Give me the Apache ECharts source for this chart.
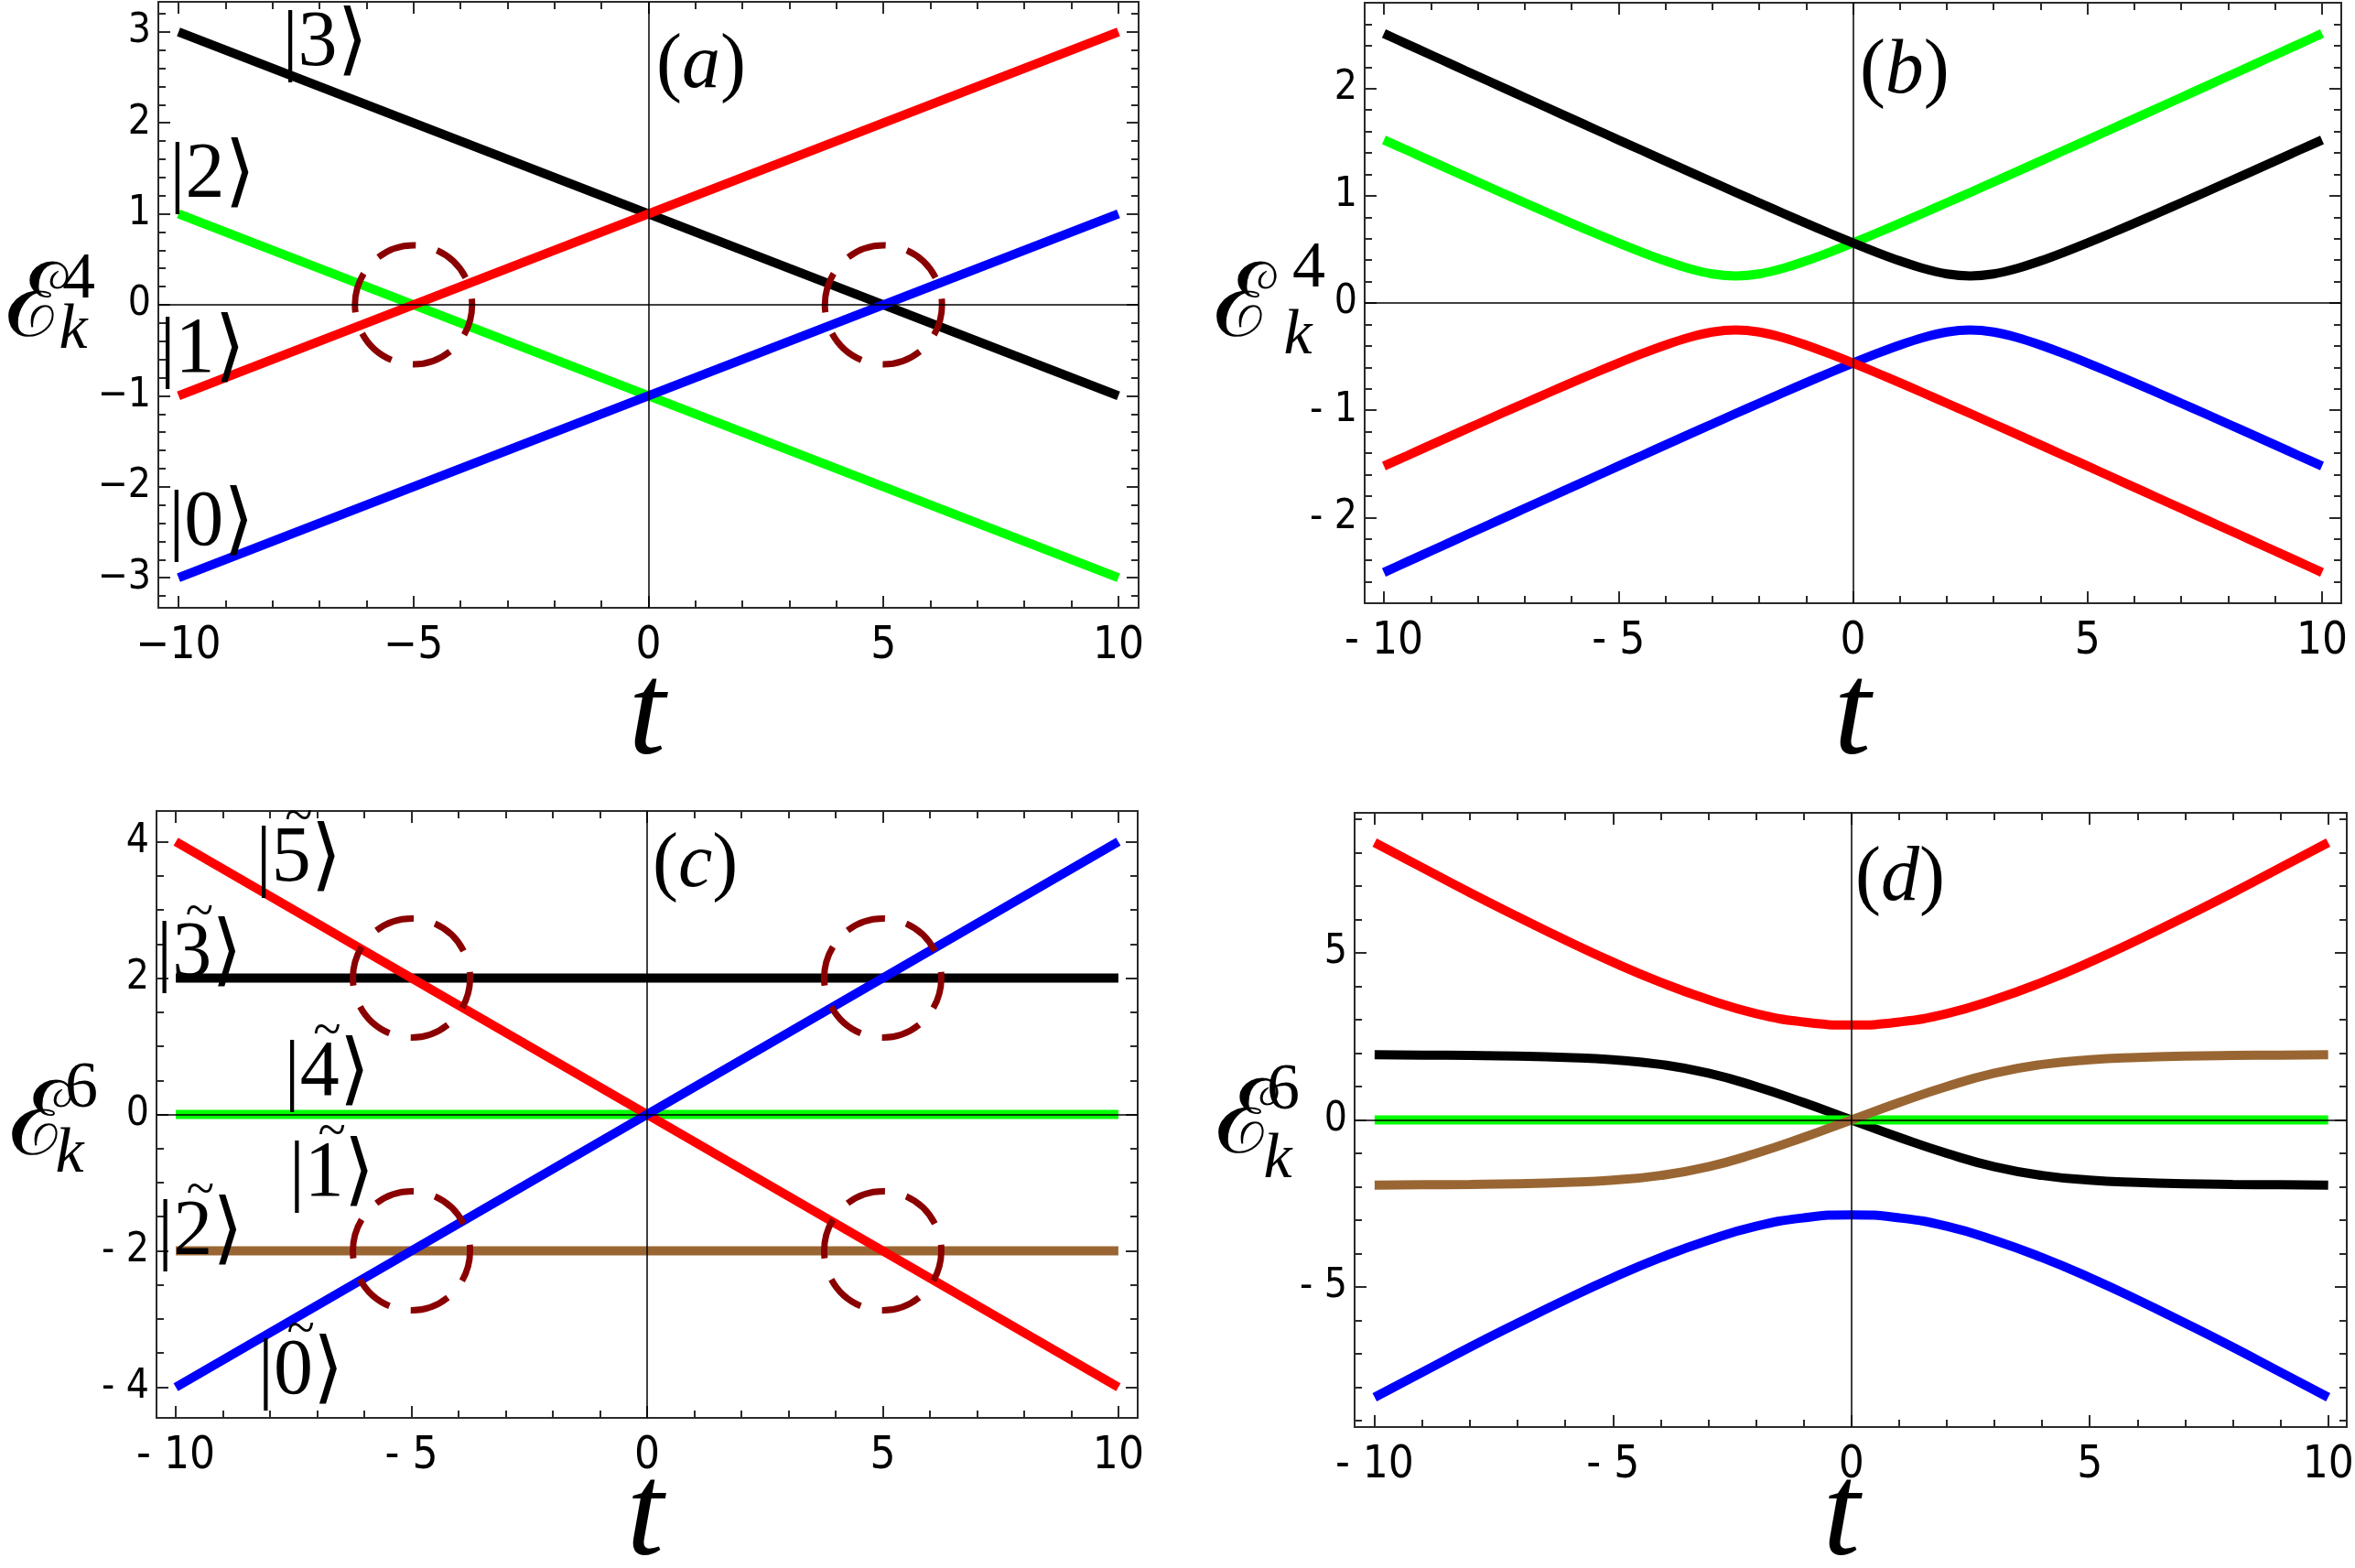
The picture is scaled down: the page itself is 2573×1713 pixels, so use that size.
<!DOCTYPE html>
<html>
<head>
<meta charset="utf-8">
<title>Level crossings</title>
<script src="https://cdn.jsdelivr.net/npm/echarts@6/dist/echarts.min.js"></script>
<style>
  html, body { margin: 0; padding: 0; background: #fff; }
  #chart-container { width: 2573px; height: 1713px; }
</style>
</head>
<body>
<div id="chart-container"></div>
<script>
// ---------- data ----------
const tEnds = [-10, 10];

// (a) straight levels |3>,|2>,|1>,|0>
const aKet3 = [3, -1];
const aKet2 = [1, -3];
const aKet1 = [-1, 3];
const aKet0 = [-3, 1];
const aCrossings = [[-5, 0], [5, 0]];

// (b) avoided crossings
const tB = [-10, -9.5, -9, -8.5, -8, -7.5, -7, -6.5, -6, -5.5, -5, -4.5, -4, -3.5, -3, -2.5, -2, -1.5, -1, -0.5,
  0, 0.5, 1, 1.5, 2, 2.5, 3, 3.5, 4, 4.5, 5, 5.5, 6, 6.5, 7, 7.5, 8, 8.5, 9, 9.5, 10];
const bBlack = [2.513, 2.413, 2.314, 2.214, 2.115, 2.016, 1.917, 1.818, 1.719, 1.620, 1.521, 1.423, 1.324, 1.226, 1.129, 1.031, 0.935, 0.839, 0.744, 0.651,
  0.560, 0.473, 0.392, 0.322, 0.271, 0.252, 0.271, 0.322, 0.392, 0.473, 0.560, 0.651, 0.744, 0.839, 0.935, 1.031, 1.129, 1.226, 1.324, 1.423, 1.521];
const bGreen = [1.521, 1.423, 1.324, 1.226, 1.129, 1.031, 0.935, 0.839, 0.744, 0.651, 0.560, 0.473, 0.392, 0.322, 0.271, 0.252, 0.271, 0.322, 0.392, 0.473,
  0.560, 0.651, 0.744, 0.839, 0.935, 1.031, 1.129, 1.226, 1.324, 1.423, 1.521, 1.620, 1.719, 1.818, 1.917, 2.016, 2.115, 2.214, 2.314, 2.413, 2.513];
const bRed = [-1.521, -1.423, -1.324, -1.226, -1.129, -1.031, -0.935, -0.839, -0.744, -0.651, -0.560, -0.473, -0.392, -0.322, -0.271, -0.252, -0.271, -0.322, -0.392, -0.473,
  -0.560, -0.651, -0.744, -0.839, -0.935, -1.031, -1.129, -1.226, -1.324, -1.423, -1.521, -1.620, -1.719, -1.818, -1.917, -2.016, -2.115, -2.214, -2.314, -2.413, -2.513];
const bBlue = [-2.513, -2.413, -2.314, -2.214, -2.115, -2.016, -1.917, -1.818, -1.719, -1.620, -1.521, -1.423, -1.324, -1.226, -1.129, -1.031, -0.935, -0.839, -0.744, -0.651,
  -0.560, -0.473, -0.392, -0.322, -0.271, -0.252, -0.271, -0.322, -0.392, -0.473, -0.560, -0.651, -0.744, -0.839, -0.935, -1.031, -1.129, -1.226, -1.324, -1.423, -1.521];

// (c) six straight levels
const cKet5 = [4, -4];
const cKet0 = [-4, 4];
const cKet3 = [2, 2];
const cKet4 = [0, 0];
const cKet2 = [-2, -2];
const cCrossings = [[-5, 2], [5, 2], [-5, -2], [5, -2]];

// (d) six coupled levels
const tD = [-10, -9, -8, -7, -6, -5, -4, -3, -2, -1, 0, 1, 2, 3, 4, 5, 6, 7, 8, 9, 10];
const dRed = [8.30, 7.55, 6.80, 6.08, 5.38, 4.72, 4.12, 3.60, 3.18, 2.93, 2.84, 2.93, 3.18, 3.60, 4.12, 4.72, 5.38, 6.08, 6.80, 7.55, 8.30];
const dBlue = [-8.30, -7.55, -6.80, -6.08, -5.38, -4.72, -4.12, -3.60, -3.18, -2.93, -2.84, -2.93, -3.18, -3.60, -4.12, -4.72, -5.38, -6.08, -6.80, -7.55, -8.30];
const dBlack = [1.95, 1.94, 1.93, 1.91, 1.87, 1.80, 1.66, 1.40, 1.00, 0.52, 0, -0.52, -1.00, -1.40, -1.66, -1.80, -1.87, -1.91, -1.93, -1.94, -1.95];
const dBrown = [-1.95, -1.94, -1.93, -1.91, -1.87, -1.80, -1.66, -1.40, -1.00, -0.52, 0, 0.52, 1.00, 1.40, 1.66, 1.80, 1.87, 1.91, 1.93, 1.94, 1.95];
const dGreen = [0, 0];

// tick labels
const xTicks = [-10, -5, 0, 5, 10];
const xTickTextA = ['\u221210', '\u22125', '0', '5', '10'];
const xTickText = ['- 10', '- 5', '0', '5', '10'];
const yTicksA = [-3, -2, -1, 0, 1, 2, 3];
const yTickTextA = ['\u22123', '\u22122', '\u22121', '0', '1', '2', '3'];
const yTicksB = [-2, -1, 0, 1, 2];
const yTickTextB = ['- 2', '- 1', '0', '1', '2'];
const yTicksC = [-4, -2, 0, 2, 4];
const yTickTextC = ['- 4', '- 2', '0', '2', '4'];
const yTicksD = [-5, 0, 5];
const yTickTextD = ['- 5', '0', '5'];

// state labels [state, t, E]
const ketsA = [['3', -6.88, 2.86], ['2', -9.28, 1.41], ['1', -9.49, -0.51], ['0', -9.3, -2.41]];
const ketsC = [['5', -7.39, 3.76], ['3', -9.5, 2.36], ['4', -6.79, 0.62],
  ['1', -6.69, -0.86], ['2', -9.48, -1.72], ['0', -7.35, -3.76]];

// ---------- styling ----------
const tickFont = '"DejaVu Sans Condensed", "Liberation Sans Narrow", "DejaVu Sans", sans-serif';
const mathFont = '"Liberation Serif", "DejaVu Serif", serif';
const frameColor = '#2a2a2a';
const C = { red: '#ff0000', green: '#00ff00', blue: '#0000ff', black: '#000000', brown: '#996633', ring: '#8a0000' };

const zip = (xs, ys) => xs.map((x, i) => [x, ys[i]]);
const range = (a, b, s) => {
  const out = [];
  for (let v = a; v <= b + 1e-9; v += s) out.push(Math.round(v * 1000) / 1000);
  return out;
};
const lookup = (vals, texts) => (v) => {
  const i = vals.findIndex((u) => Math.abs(u - v) < 1e-6);
  return i >= 0 ? texts[i] : '';
};

const grids = [];
const xAxes = [];
const yAxes = [];

// frame with inside ticks on all four sides; major and minor ticks drawn by overlaid axes
const makePanel = (box, xr, yr, xMajor, xMinor, xText, yMajor, yMinor, yText) => {
  const g = grids.length;
  grids.push({ left: box[0], top: box[1], width: box[2] - box[0], height: box[3] - box[1], outerBoundsMode: 'none' });
  const idx = { x: xAxes.length, y: yAxes.length };
  const line = { show: true, onZero: false, lineStyle: { color: frameColor, width: 2 } };
  ['bottom', 'top'].forEach((pos) => {
    [[xMajor, 13], [xMinor, 8]].forEach(([vals, len], k) => {
      xAxes.push({
        type: 'value', gridIndex: g, position: pos, min: xr[0], max: xr[1],
        axisLine: line,
        axisTick: { show: true, inside: true, length: len, customValues: vals, lineStyle: { color: frameColor, width: 2 } },
        axisLabel: {
          show: pos === 'bottom' && k === 0, customValues: xMajor, formatter: lookup(xMajor, xText),
          margin: 18, fontSize: 49, fontFamily: tickFont, color: '#000',
        },
        splitLine: { show: false },
      });
    });
  });
  ['left', 'right'].forEach((pos) => {
    [[yMajor, 13], [yMinor, 8]].forEach(([vals, len], k) => {
      yAxes.push({
        type: 'value', gridIndex: g, position: pos, min: yr[0], max: yr[1],
        axisLine: line,
        axisTick: { show: true, inside: true, length: len, customValues: vals, lineStyle: { color: frameColor, width: 2 } },
        axisLabel: {
          show: pos === 'left' && k === 0, customValues: yMajor, formatter: lookup(yMajor, yText),
          margin: 8, fontSize: 44, fontFamily: tickFont, color: '#000',
        },
        splitLine: { show: false },
      });
    });
  });
  return idx;
};

const pA = makePanel([173, 2, 1244, 664], [-10.43, 10.43], [-3.33, 3.33],
  xTicks, range(-10, 10, 1), xTickTextA, yTicksA, range(-3.2, 3.2, 0.2), yTickTextA);
const pB = makePanel([1491, 3, 2558, 659], [-10.41, 10.41], [-2.8, 2.8],
  xTicks, range(-10, 10, 1), xTickText, yTicksB, range(-2.6, 2.6, 0.2), yTickTextB);
const pC = makePanel([171, 886, 1243, 1549], [-10.41, 10.41], [-4.45, 4.45],
  xTicks, range(-10, 10, 1), xTickText, yTicksC, range(-4, 4, 0.5), yTickTextC);
const pD = makePanel([1480, 888, 2564, 1559], [-10.42, 10.39], [-9.19, 9.19],
  xTicks, range(-10, 10, 1), xTickText, yTicksD, range(-9, 9, 1), yTickTextD);

const zeroAxes = {
  silent: true, symbol: 'none', z: 8, animation: false,
  label: { show: false },
  lineStyle: { color: '#000', width: 1.5, type: 'solid' },
  data: [{ yAxis: 0 }, { xAxis: 0 }],
};

const curve = (p, xs, ys, color, smooth, withAxes) => {
  const s = {
    type: 'line', xAxisIndex: p.x, yAxisIndex: p.y, data: zip(xs, ys),
    showSymbol: false, symbol: 'none', smooth: smooth, silent: true,
    lineStyle: { color: color, width: 10, cap: 'butt' },
  };
  if (withAxes) s.markLine = zeroAxes;
  return s;
};

const rings = (p, pts) => ({
  type: 'scatter', xAxisIndex: p.x, yAxisIndex: p.y, data: pts, silent: true, z: 4,
  symbol: 'circle', symbolSize: [128, 130],
  itemStyle: {
    opacity: 1, color: 'rgba(0,0,0,0)', borderColor: C.ring, borderWidth: 7,
    borderType: [44, 24], borderDashOffset: 10,
  },
});

const ketRich = {
  t: { fontFamily: mathFont, fontSize: 56, lineHeight: 4, color: '#000' },
  k: { fontFamily: mathFont, fontSize: 86, lineHeight: 86, color: '#000' },
};
const labels = (p, list, tilde) => ({
  type: 'scatter', xAxisIndex: p.x, yAxisIndex: p.y, symbolSize: 0, silent: true, z: 6,
  itemStyle: { opacity: 1 },
  data: list.map(([name, x, y]) => ({ name: name, value: [x, y] })),
  label: {
    show: true, position: 'inside', textBorderWidth: 0,
    formatter: (d) => (tilde ? '{t|~}\n' : '') + '{k||' + d.name + '\u27E9}',
    rich: ketRich,
  },
});

const panelTag = (p, letter, x, y) => ({
  type: 'scatter', xAxisIndex: p.x, yAxisIndex: p.y, symbolSize: 0, silent: true, z: 6,
  itemStyle: { opacity: 1 },
  data: [{ name: letter, value: [x, y] }],
  label: {
    show: true, position: 'inside', textBorderWidth: 0, formatter: '{p|(}{i|{b}}{p|)}',
    rich: {
      p: { fontFamily: mathFont, fontSize: 84, color: '#000' },
      i: { fontFamily: mathFont, fontStyle: 'italic', fontSize: 84, color: '#000' },
    },
  },
});

const series = [
  // (a)
  curve(pA, tEnds, aKet3, C.black, false, true),
  curve(pA, tEnds, aKet2, C.green, false),
  curve(pA, tEnds, aKet1, C.red, false),
  curve(pA, tEnds, aKet0, C.blue, false),
  rings(pA, aCrossings),
  labels(pA, ketsA, false),
  panelTag(pA, 'a', 1.12, 2.62),
  // (b)
  curve(pB, tB, bGreen, C.green, 0.3, true),
  curve(pB, tB, bBlack, C.black, 0.3),
  curve(pB, tB, bBlue, C.blue, 0.3),
  curve(pB, tB, bRed, C.red, 0.3),
  panelTag(pB, 'b', 1.1, 2.15),
  // (c)
  curve(pC, tEnds, cKet3, C.black, false, true),
  curve(pC, tEnds, cKet4, C.green, false),
  curve(pC, tEnds, cKet2, C.brown, false),
  curve(pC, tEnds, cKet5, C.red, false),
  curve(pC, tEnds, cKet0, C.blue, false),
  rings(pC, cCrossings),
  labels(pC, ketsC, true),
  panelTag(pC, 'c', 1.02, 3.64),
  // (d)
  curve(pD, tD, dBlack, C.black, true, true),
  curve(pD, tEnds, dGreen, C.green, false),
  curve(pD, tD, dBrown, C.brown, true),
  curve(pD, tD, dRed, C.red, true),
  curve(pD, tD, dBlue, C.blue, true),
  panelTag(pD, 'd', 1.02, 7.19),
];

// axis titles: script E with sub/superscript, and italic t
const txt = (x, y, text, font) => ({
  type: 'text', x: x, y: y, silent: true,
  style: { text: text, font: font, fill: '#000', align: 'center', verticalAlign: 'middle' },
});
const eFont = '112px "DejaVu Serif", serif';
const supFont = '72px "Liberation Serif", serif';
const subFont = 'italic 70px "Liberation Serif", serif';
const tFont = 'italic 145px "Liberation Serif", serif';

const graphic = [
  txt(40, 338, '\u2130', eFont), txt(86, 306, '4', supFont), txt(80, 362, 'k', subFont), txt(707, 785, 't', tFont),
  txt(1360, 338, '\u2130', eFont), txt(1430, 294, '4', supFont), txt(1418, 368, 'k', subFont), txt(2024, 785, 't', tFont),
  txt(44, 1232, '\u2130', eFont), txt(89, 1190, '6', supFont), txt(76, 1262, 'k', subFont), txt(705, 1660, 't', tFont),
  txt(1362, 1230, '\u2130', eFont), txt(1402, 1192, '6', supFont), txt(1396, 1268, 'k', subFont), txt(2012, 1660, 't', tFont),
];

const chart = echarts.init(document.getElementById('chart-container'), null, { renderer: 'canvas' });
chart.setOption({
  animation: false,
  backgroundColor: '#ffffff',
  grid: grids,
  xAxis: xAxes,
  yAxis: yAxes,
  series: series,
  graphic: graphic,
});
</script>
</body>
</html>
